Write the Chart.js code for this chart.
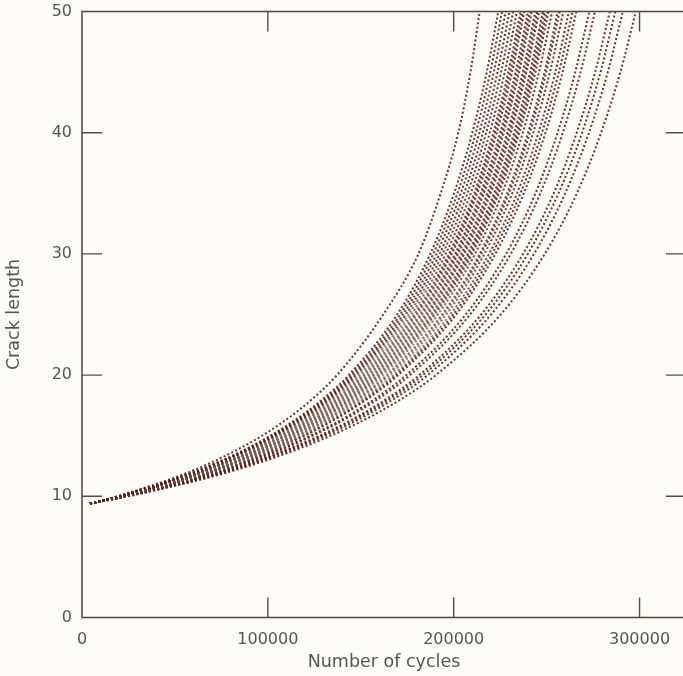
<!DOCTYPE html>
<html>
<head>
<meta charset="utf-8">
<script src="https://cdn.jsdelivr.net/npm/chart.js@4.4.0/dist/chart.umd.min.js"></script>
<style>
  html, body { margin: 0; padding: 0; background: #fdfcf8; overflow: hidden; }
  #wrap { width: 690px; height: 676px; }
</style>
</head>
<body>
<div id="wrap"><canvas id="crack-chart"></canvas></div>
<script>
// crack length levels (mm) at which cycles were read for every specimen
const crackLengths = [9.4, 10, 12, 14, 16, 18, 20, 25, 30, 35, 40, 45, 50];

// cycles for each specimen at the crack lengths above
const spec01 = [4300, 18900, 57600, 85500, 106900, 123700, 137200, 162100, 181000, 193000, 202500, 209000, 214000];
const spec02 = [4300, 19600, 60100, 89400, 111800, 129400, 143500, 169600, 187400, 200200, 210000, 217800, 224000];
const spec03 = [4300, 19800, 60600, 90100, 112700, 130500, 144800, 171200, 189000, 202000, 211900, 219700, 226000];
const spec04 = [4300, 19900, 61100, 90900, 113700, 131600, 146000, 172700, 190700, 203800, 213800, 221600, 228000];
const spec05 = [4300, 20000, 61600, 91700, 114700, 132800, 147300, 174200, 192400, 205600, 215700, 223600, 230000];
const spec06 = [4300, 20200, 62100, 92500, 115700, 133900, 148600, 175700, 194000, 207400, 217500, 225500, 232000];
const spec07 = [4300, 20300, 62600, 93200, 116600, 135000, 149800, 177200, 195700, 209200, 219400, 227500, 234000];
const spec08 = [4300, 20400, 63200, 94000, 117600, 136200, 151100, 178700, 197400, 211000, 221300, 229400, 236000];
const spec09 = [4300, 20500, 63400, 94400, 118100, 136800, 151700, 179400, 198200, 211800, 222200, 230400, 237000];
const spec10 = [4300, 20600, 63700, 94800, 118600, 137300, 152400, 180200, 199000, 212700, 223200, 231400, 238000];
const spec11 = [4300, 20700, 64200, 95600, 119600, 138500, 153600, 181700, 200700, 214500, 225000, 233300, 240000];
const spec12 = [4300, 20800, 64400, 95900, 120100, 139000, 154300, 182400, 201500, 215400, 226000, 234300, 241000];
const spec13 = [4300, 20900, 64700, 96300, 120600, 139600, 154900, 183200, 202400, 216300, 226900, 235200, 242000];
const spec14 = [4300, 21000, 65200, 97100, 121500, 140700, 156200, 184700, 204000, 218100, 228800, 237200, 244000];
const spec15 = [4300, 21100, 65400, 97500, 122000, 141300, 156800, 185500, 204900, 219000, 229700, 238200, 245000];
const spec16 = [4300, 21100, 65700, 97900, 122500, 141900, 157400, 186200, 205700, 219900, 230700, 239100, 246000];
const spec17 = [4300, 21300, 66200, 98700, 123500, 143000, 158700, 187700, 207400, 221700, 232500, 241100, 248000];
const spec18 = [4300, 21400, 66500, 99100, 124000, 143600, 159300, 188500, 208200, 222500, 233500, 242100, 249000];
const spec19 = [4300, 21400, 66700, 99400, 124500, 144200, 160000, 189200, 209000, 223400, 234400, 243000, 250000];
const spec20 = [4300, 21500, 67000, 99800, 125000, 144700, 160600, 190000, 209900, 224300, 235300, 244000, 251000];
const spec21 = [4300, 21600, 67500, 100600, 125900, 145900, 161900, 191500, 211500, 226100, 237200, 245900, 253000];
const spec22 = [4300, 21800, 68200, 101800, 127400, 147600, 163800, 193700, 214000, 228800, 240000, 248900, 256000];
const spec23 = [4300, 21900, 68500, 102100, 127900, 148100, 164400, 194500, 214900, 229700, 241000, 249800, 257000];
const spec24 = [4300, 22100, 69000, 102900, 128900, 149300, 165700, 196000, 216500, 231500, 242800, 251800, 259000];
const spec25 = [4300, 22300, 69800, 104100, 130300, 151000, 167600, 198200, 219000, 234100, 245600, 254700, 262000];
const spec26 = [4300, 22400, 70300, 104900, 131300, 152100, 168800, 199800, 220700, 235900, 247500, 256600, 264000];
const spec27 = [4300, 22500, 70800, 105600, 132300, 153300, 170100, 201300, 222400, 237700, 249400, 258600, 266000];
const spec28 = [4300, 23000, 72600, 108300, 135700, 157200, 174500, 206500, 228200, 244000, 255900, 265400, 273000];
const spec29 = [4300, 23200, 73300, 109500, 137200, 159000, 176500, 208800, 230700, 246600, 258700, 268300, 276000];
const spec30 = [4300, 23800, 75300, 112600, 141100, 163500, 181500, 214800, 237300, 253800, 266200, 276100, 284000];
const spec31 = [4300, 24000, 76100, 113800, 142600, 165200, 183400, 217100, 239900, 256400, 269100, 279000, 287000];
const spec32 = [4300, 24300, 77100, 115300, 144500, 167500, 186000, 220100, 243200, 260000, 272800, 282900, 291000];
const spec33 = [4300, 24800, 78900, 118000, 147900, 171500, 190400, 225300, 249000, 266300, 279300, 289700, 298000];

const specimens = [spec01, spec02, spec03, spec04, spec05, spec06, spec07, spec08, spec09, spec10,
  spec11, spec12, spec13, spec14, spec15, spec16, spec17, spec18, spec19, spec20,
  spec21, spec22, spec23, spec24, spec25, spec26, spec27, spec28, spec29, spec30,
  spec31, spec32, spec33];

// tick labels
const xTicks = [0, 100000, 200000, 300000];
const yTicks = [0, 10, 20, 30, 40, 50];

const FONT = 'DejaVu Sans, Verdana, sans-serif';
const AXIS_COLOR = '#5a4b42';
const TEXT_COLOR = '#555555';
const DOT_DARK = 'rgba(88, 36, 28, 0.92)';

// middle of the bundle looks grey in the low part and dark red-brown near the top
let bandGradient = null;
function middleColor(context) {
  const chart = context.chart;
  if (!chart.chartArea) return DOT_DARK;
  if (!bandGradient) {
    const y = chart.scales.y;
    bandGradient = chart.ctx.createLinearGradient(0, y.getPixelForValue(0), 0, y.getPixelForValue(50));
    bandGradient.addColorStop(0.20, 'rgba(100, 58, 48, 0.92)');
    bandGradient.addColorStop(0.30, 'rgba(128, 104, 94, 0.88)');
    bandGradient.addColorStop(0.46, 'rgba(128, 104, 94, 0.88)');
    bandGradient.addColorStop(0.60, 'rgba(105, 50, 40, 0.92)');
    bandGradient.addColorStop(1.00, 'rgba(92, 36, 28, 0.94)');
  }
  return bandGradient;
}

// frame and inward tick marks on all four sides
const framePlugin = {
  id: 'frame',
  afterDatasetsDraw(chart) {
    const { ctx, chartArea: a, scales } = chart;
    ctx.save();
    ctx.strokeStyle = AXIS_COLOR;
    ctx.lineWidth = 1.6;
    ctx.strokeRect(a.left, a.top, a.right - a.left, a.bottom - a.top);

    ctx.lineWidth = 1.4;
    ctx.beginPath();
    xTicks.slice(1).forEach(v => {
      const px = scales.x.getPixelForValue(v);
      ctx.moveTo(px, a.bottom);
      ctx.lineTo(px, a.bottom - 20);
      ctx.moveTo(px, a.top);
      ctx.lineTo(px, a.top + 20);
    });
    yTicks.slice(1, -1).forEach(v => {
      const py = scales.y.getPixelForValue(v);
      ctx.moveTo(a.left, py);
      ctx.lineTo(a.left + 20, py);
      ctx.moveTo(a.right, py);
      ctx.lineTo(a.right - 20, py);
    });
    ctx.stroke();
    ctx.restore();
  }
};

const datasets = specimens.map((cycles, i) => ({
  data: cycles.map((n, k) => ({ x: n, y: crackLengths[k] })),
  borderColor: (i >= 5 && i <= 24) ? middleColor : DOT_DARK,
  borderWidth: 2,
  borderDash: [2, 2.3],
  pointRadius: 0,
  fill: false,
  cubicInterpolationMode: 'monotone'
}));

new Chart(document.getElementById('crack-chart'), {
  type: 'line',
  data: { datasets },
  options: {
    responsive: true,
    maintainAspectRatio: false,
    animation: false,
    layout: { padding: { top: 11.5, right: 4, left: 0, bottom: 0 } },
    plugins: {
      legend: { display: false },
      tooltip: { enabled: false }
    },
    scales: {
      x: {
        type: 'linear',
        min: 0,
        max: 325000,
        grid: { display: false, drawTicks: false },
        border: { display: false },
        afterBuildTicks: scale => { scale.ticks = xTicks.map(v => ({ value: v })); },
        afterFit: scale => {
          scale.height = 58.5;
          scale.paddingLeft = 0;
          scale.paddingRight = 0;
        },
        ticks: {
          padding: 13,
          color: TEXT_COLOR,
          font: { family: FONT, size: 16 },
          maxRotation: 0,
          callback: v => String(v)
        },
        title: {
          display: true,
          text: 'Number of cycles',
          color: TEXT_COLOR,
          font: { family: FONT, size: 17.5 },
          padding: { top: 0, bottom: 3 }
        }
      },
      y: {
        type: 'linear',
        min: 0,
        max: 50,
        grid: { display: false, drawTicks: false },
        border: { display: false },
        afterBuildTicks: scale => { scale.ticks = yTicks.map(v => ({ value: v })); },
        afterFit: scale => {
          scale.width = 82;
          scale.paddingTop = 0;
          scale.paddingBottom = 0;
        },
        ticks: {
          padding: 10,
          color: TEXT_COLOR,
          font: { family: FONT, size: 16 }
        },
        title: {
          display: true,
          text: 'Crack length',
          color: TEXT_COLOR,
          font: { family: FONT, size: 17.5 },
          padding: { top: 4, bottom: 0 }
        }
      }
    }
  },
  plugins: [framePlugin]
});
</script>
</body>
</html>
